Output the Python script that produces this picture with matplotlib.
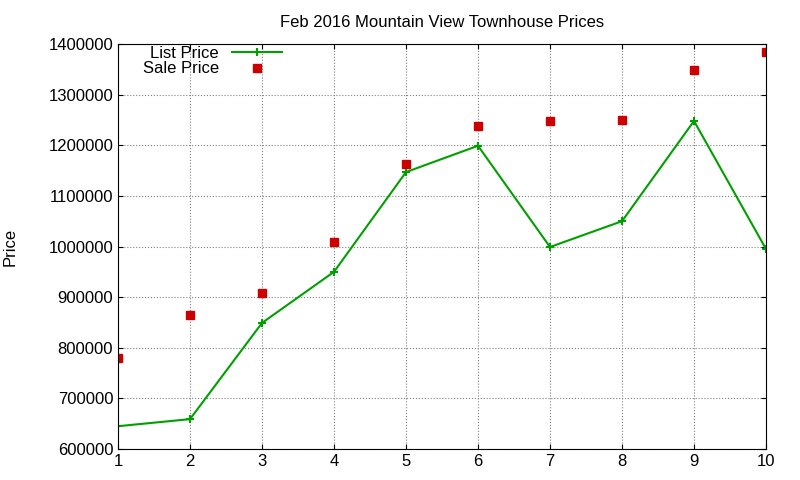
import matplotlib
matplotlib.use("Agg")
import matplotlib.pyplot as plt

plt.rcParams['font.family'] = ['Liberation Sans', 'DejaVu Sans']

x = [1, 2, 3, 4, 5, 6, 7, 8, 9, 10]
list_price = [645000, 659000, 849000, 950000, 1147000, 1199000, 999000, 1050000, 1248000, 995000]
sale_price = [780000, 865000, 908000, 1009000, 1163000, 1238000, 1248000, 1250000, 1349000, 1385000]

fig = plt.figure(figsize=(8, 4.8), dpi=100)
ax = fig.add_axes([0.1475, 0.0646, 0.81, 0.8437])
ax.plot(x, list_price, color="#00a000", lw=1.5, marker="+", ms=6, mew=1.5, label="List Price")
ax.plot(x, sale_price, ls="none", marker="s", ms=6, color="#cc0000", label="Sale Price")
ax.set_xlim(1, 10)
ax.set_ylim(600000, 1400000)
ax.set_xticks(x)
ax.set_yticks(range(600000, 1400001, 100000))
ax.ticklabel_format(style="plain", axis="y", useOffset=False)
ax.tick_params(direction="in", top=True, right=True, labelsize=12)
ax.grid(True, ls=":", color="gray", lw=0.8)
ax.set_ylabel("Price", fontsize=12, labelpad=22)
ax.set_title("Feb 2016 Mountain View Townhouse Prices", fontsize=12, pad=12)
ax.legend(loc="upper left", frameon=False, markerfirst=False, fontsize=12,
          bbox_to_anchor=(0.02, 1.025), handlelength=3.0, borderaxespad=0.3, labelspacing=0.05)
fig.savefig("out.png", dpi=100)
